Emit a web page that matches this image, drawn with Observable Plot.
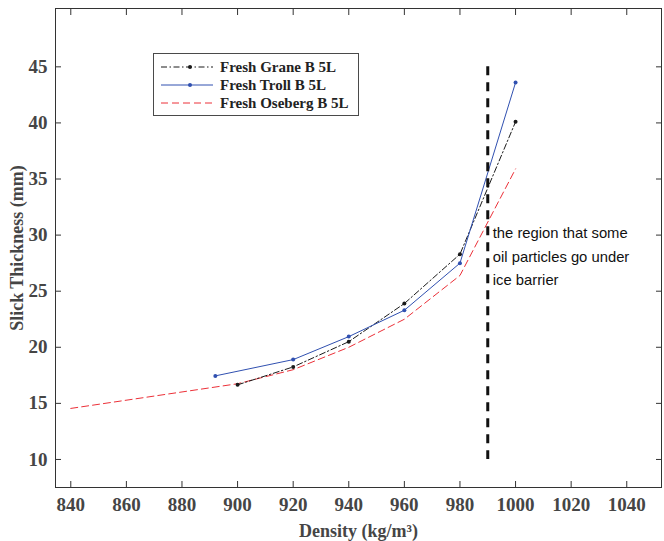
<!DOCTYPE html>
<html><head><meta charset="utf-8">
<script src="https://cdn.jsdelivr.net/npm/d3@7"></script>
<script src="https://cdn.jsdelivr.net/npm/@observablehq/plot@0.6"></script>
<style>
body{margin:0;background:#fff}
#wrap{position:relative;width:664px;height:541px}
#legend{position:absolute;left:153px;top:53px;width:206px;height:63px;border:1px solid #4a4a4a;background:#fff;box-sizing:border-box;font:bold 15px "Liberation Serif",serif;color:#222}
#legend .row{position:absolute;left:0;height:18px;line-height:18px;white-space:nowrap}
#legend svg{position:absolute;left:6px;top:0}
#legend span{position:absolute;left:66px;top:0}
</style></head><body><div id="wrap"></div>
<script>
// Data
const graneX = [900, 920, 940, 960, 980, 1000];
const graneY = [16.65, 18.25, 20.5, 23.9, 28.3, 40.1];
const trollX = [892, 920, 940, 960, 980, 1000];
const trollY = [17.45, 18.9, 20.95, 23.3, 27.5, 43.6];
const osebergX = [840, 900, 920, 940, 960, 980, 1000];
const osebergY = [14.55, 16.75, 18.0, 20.0, 22.5, 26.4, 35.9];
const seriesNames = ["Fresh Grane B 5L", "Fresh Troll B 5L", "Fresh Oseberg B 5L"];
const seriesColors = ["#1a1a1a", "#3050b0", "#ec3038"];
const seriesDash = ["6,2.5,1.5,2.5", null, "7,4"];
const xTicks = [840, 860, 880, 900, 920, 940, 960, 980, 1000, 1020, 1040];
const yTicks = [10, 15, 20, 25, 30, 35, 40, 45];
const regionX = 990;
const regionY = [10, 45];
const annotationLines = ["the region that some", "oil particles go under", "ice barrier"];
const annotationY = 28.3;

const toRows = (xs, ys) => xs.map((x, i) => ({x, y: ys[i]}));
const grane = toRows(graneX, graneY);
const troll = toRows(trollX, trollY);
const oseberg = toRows(osebergX, osebergY);

const blank = () => "";
const chart = Plot.plot({
  width: 664, height: 541,
  marginLeft: 55, marginRight: 3, marginTop: 8, marginBottom: 54,
  style: {fontFamily: "'Liberation Serif', serif", fontWeight: "bold", fontSize: "19px", color: "#454545", background: "#fff"},
  x: {domain: [834.5, 1052.5]},
  y: {domain: [7.5, 50.2]},
  marks: [
    Plot.axisX({anchor: "bottom", ticks: xTicks, tickSize: 0, tickPadding: 10, tickFormat: d => String(d), fontSize: 19,
      fill: "#454545", label: null}),
    Plot.axisX({anchor: "bottom", ticks: [], tickSize: 0, label: "Density (kg/m³)", labelAnchor: "center", labelArrow: "none",
      labelOffset: 49, fontSize: 18, fill: "#454545"}),
    Plot.axisX({anchor: "bottom", ticks: xTicks, tickSize: -6, tickFormat: blank, label: null, stroke: "#333"}),
    Plot.axisX({anchor: "top", ticks: xTicks, tickSize: -6, tickFormat: blank, label: null, stroke: "#333"}),
    Plot.axisY({anchor: "left", ticks: yTicks, tickSize: 0, tickPadding: 8, tickFormat: d => String(d), fontSize: 19,
      fill: "#454545", label: null}),
    Plot.axisY({anchor: "left", ticks: [], tickSize: 0, label: "Slick Thickness (mm)", labelAnchor: "center", labelArrow: "none",
      labelOffset: 45, fontSize: 18, fill: "#454545"}),
    Plot.axisY({anchor: "left", ticks: yTicks, tickSize: -6, tickFormat: blank, label: null, stroke: "#333"}),
    Plot.axisY({anchor: "right", ticks: yTicks, tickSize: -6, tickFormat: blank, label: null, stroke: "#333"}),
    Plot.frame({stroke: "#333", strokeWidth: 1}),
    Plot.line(oseberg, {x: "x", y: "y", stroke: seriesColors[2], strokeWidth: 1, strokeDasharray: seriesDash[2]}),
    Plot.line(grane, {x: "x", y: "y", stroke: seriesColors[0], strokeWidth: 1, strokeDasharray: seriesDash[0]}),
    Plot.dot(grane, {x: "x", y: "y", r: 2, fill: seriesColors[0], stroke: "none"}),
    Plot.line(troll, {x: "x", y: "y", stroke: seriesColors[1], strokeWidth: 1}),
    Plot.dot(troll, {x: "x", y: "y", r: 2, fill: seriesColors[1], stroke: "none"}),
    Plot.ruleX([regionX], {y1: regionY[1], y2: regionY[0], stroke: "#111", strokeWidth: 3, strokeDasharray: "9,7"}),
    Plot.text([annotationLines.join("\n")], {x: () => regionX, y: () => annotationY, dx: 5, text: d => d,
      textAnchor: "start", lineAnchor: "middle", lineHeight: 1.6, fontFamily: "'Liberation Sans', Arial, sans-serif",
      fontWeight: "normal", fontSize: 14.8, fill: "#111"})
  ]
});
const wrap = document.getElementById("wrap");
wrap.appendChild(chart);

// Legend
const legend = document.createElement("div");
legend.id = "legend";
seriesNames.forEach((name, i) => {
  const row = document.createElement("div");
  row.className = "row";
  row.style.top = (4 + i * 18.2) + "px";
  const dash = seriesDash[i] ? `stroke-dasharray="${seriesDash[i]}"` : "";
  const dot = i < 2 ? `<circle cx="30" cy="9" r="2" fill="${seriesColors[i]}"/>` : "";
  row.innerHTML = `<svg width="54" height="18"><line x1="1" x2="53" y1="9" y2="9" stroke="${seriesColors[i]}" stroke-width="1" ${dash}/>${dot}</svg><span>${name}</span>`;
  legend.appendChild(row);
});
wrap.appendChild(legend);
</script></body></html>
